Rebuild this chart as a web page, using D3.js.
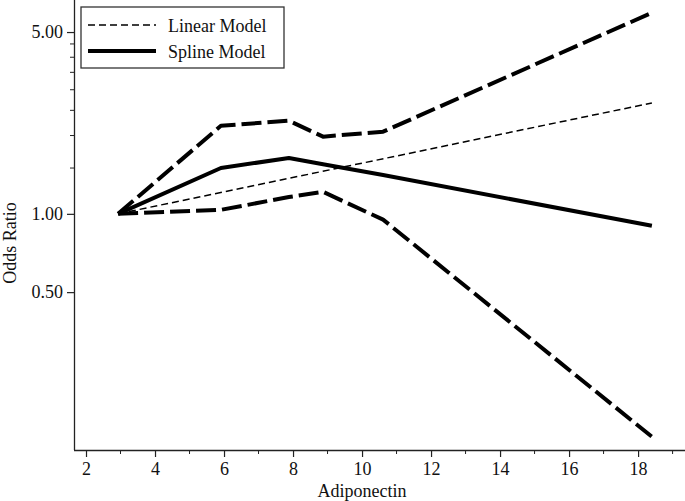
<!DOCTYPE html>
<html lang="en">
<head>
    <meta charset="UTF-8">
    <title>Odds Ratio vs Adiponectin</title>
    <script src="https://d3js.org/d3.v7.min.js"></script>
    <style>
        body { margin: 0; background: #fff; }
        #chart { width: 685px; height: 501px; display: block; }
        text { font-family: "Liberation Serif", "Times New Roman", serif; fill: #111; }
    </style>
</head>
<body>
    <svg id="chart" width="685" height="501"></svg>

    <script>
        // knots of the spline model and its confidence band
        const adiponectin = [2.93, 5.91, 7.88, 8.87, 10.61, 18.4];
        const splineOR = [1.00, 1.50, 1.64, 1.55, 1.41, 0.90];
        const upperOR = [1.00, 2.18, 2.28, 1.98, 2.07, 5.93];
        const lowerOR = [1.00, 1.036, 1.16, 1.215, 0.95, 0.139];

        // linear model
        const linearX = [2.93, 18.4];
        const linearOR = [1.00, 2.67];

        const xTicks = [2, 4, 6, 8, 10, 12, 14, 16, 18];
        const xMinor = [3, 5, 7, 9, 11, 13, 15, 17, 19];
        const yTicks = [0.5, 1, 5];
        const yMinor = [1.5, 2, 2.5, 3, 3.5, 4, 4.5];

        const svg = d3.select("#chart");

        const x = d3.scaleLinear().domain([1.652, 19.36]).range([74, 685]);
        const y = d3.scaleLog().domain([0.1236, 6.64]).range([450, 0]);

        // axes
        const xAxis = d3.axisBottom(x).tickValues(xTicks).tickSize(7).tickPadding(5)
            .tickFormat(d3.format("d"));
        const gx = svg.append("g").attr("transform", "translate(0,450)").call(xAxis);
        gx.append("g").selectAll("line")
            .data(xMinor)
            .enter().append("line")
            .attr("x1", d => x(d)).attr("x2", d => x(d))
            .attr("y1", 0).attr("y2", 4)
            .attr("stroke", "#222");

        const yAxis = d3.axisLeft(y).tickValues(yTicks).tickSize(7).tickPadding(4)
            .tickFormat(d3.format(".2f"));
        const gy = svg.append("g").attr("transform", "translate(74,0)").call(yAxis);
        gy.append("g").selectAll("line")
            .data(yMinor)
            .enter().append("line")
            .attr("y1", d => y(d)).attr("y2", d => y(d))
            .attr("x1", 0).attr("x2", -4)
            .attr("stroke", "#222");

        [gx, gy].forEach(g => {
            g.select(".domain").attr("stroke", "#222").attr("stroke-width", 1.3);
            g.selectAll(".tick line").attr("stroke", "#222").attr("stroke-width", 1.2);
            g.selectAll(".tick text").attr("font-size", "18px")
                .attr("font-family", "Liberation Serif").attr("fill", "#111");
        });
        gx.select(".domain").attr("d", "M74,0.5H685");
        gy.select(".domain").attr("d", "M0.5,0V450");

        svg.append("text")
            .attr("x", 362).attr("y", 497)
            .attr("text-anchor", "middle")
            .attr("font-size", "18px")
            .text("Adiponectin");

        svg.append("text")
            .attr("transform", "translate(16,243) rotate(-90)")
            .attr("text-anchor", "middle")
            .attr("font-size", "18px")
            .text("Odds Ratio");

        const line = d3.line().x(d => x(d[0])).y(d => y(d[1]));

        const series = [
            { xs: linearX, ys: linearOR, width: 1.5, dash: "7,4" },
            { xs: adiponectin, ys: upperOR, width: 4, dash: "20,6" },
            { xs: adiponectin, ys: lowerOR, width: 4, dash: "20,6" },
            { xs: adiponectin, ys: splineOR, width: 4, dash: null }
        ];

        svg.selectAll("path.curve")
            .data(series)
            .enter().append("path")
            .attr("class", "curve")
            .attr("d", s => line(s.xs.map((v, i) => [v, s.ys[i]])))
            .attr("fill", "none")
            .attr("stroke", "#000")
            .attr("stroke-width", s => s.width)
            .attr("stroke-dasharray", s => s.dash)
            .attr("stroke-linejoin", "round");

        // legend
        const legend = svg.append("g");
        legend.append("rect")
            .attr("x", 81).attr("y", 7)
            .attr("width", 203).attr("height", 61)
            .attr("fill", "#fff")
            .attr("stroke", "#333")
            .attr("stroke-width", 1.3);

        const legendItems = [
            { label: "Linear Model", width: 1.5, dash: "7,4" },
            { label: "Spline Model", width: 4, dash: null }
        ];
        legendItems.forEach((d, i) => {
            const ly = 25 + i * 26;
            legend.append("line")
                .attr("x1", 88).attr("x2", 156)
                .attr("y1", ly).attr("y2", ly)
                .attr("stroke", "#000")
                .attr("stroke-width", d.width)
                .attr("stroke-dasharray", d.dash);
            legend.append("text")
                .attr("x", 168).attr("y", ly + 7)
                .attr("font-size", "18px")
                .text(d.label);
        });
    </script>
</body>
</html>
